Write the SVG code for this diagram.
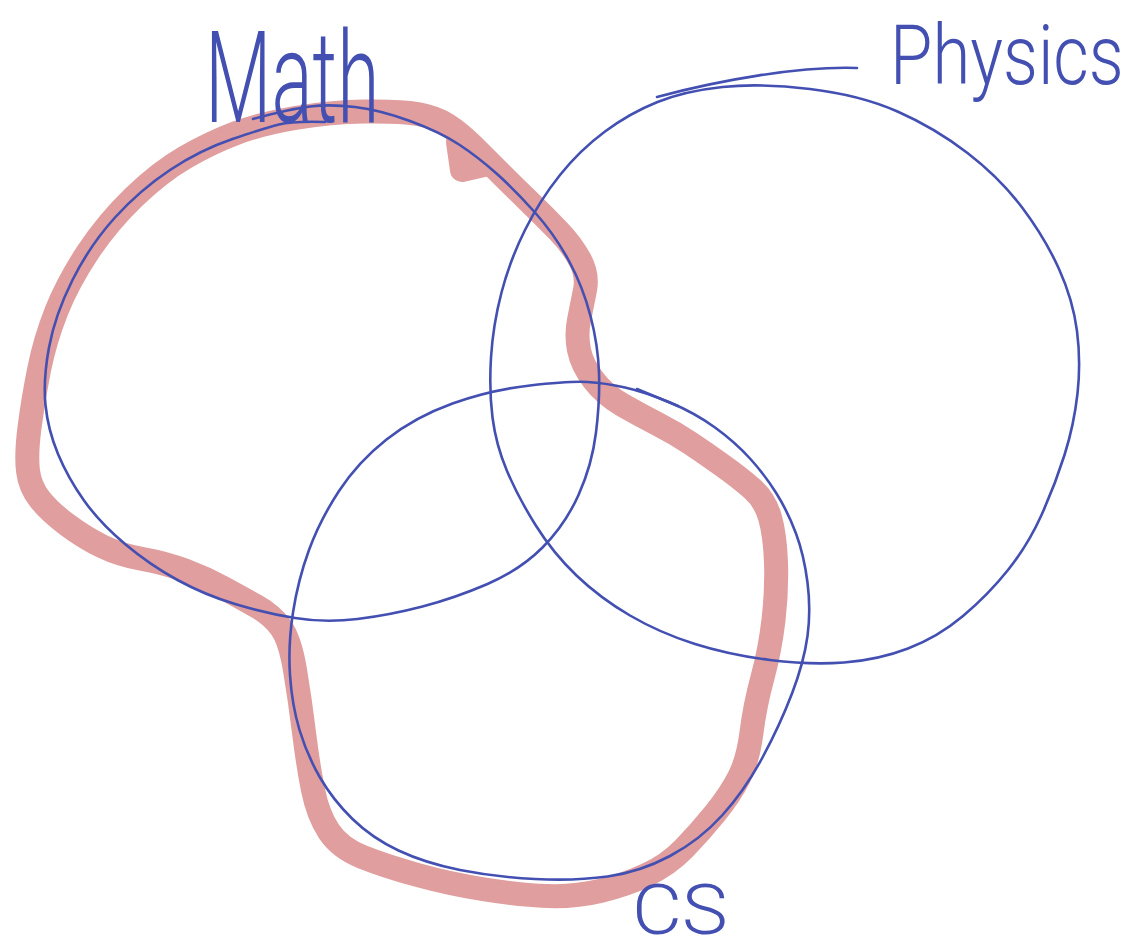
<svg xmlns="http://www.w3.org/2000/svg" width="1144" height="951" viewBox="0 0 1144 951">
<style>
.ink{fill:none;stroke:#4350b2;stroke-width:2.6;stroke-linecap:round;stroke-linejoin:round}
.hl{fill:none;stroke:#e09e9e;stroke-width:24;stroke-linecap:round;stroke-linejoin:round}
.hand{font-family:Roboto,"Liberation Sans",sans-serif;font-weight:300;fill:#4350b2}
</style>
<rect width="1144" height="951" fill="#ffffff"/>
<g id="connectors">
<g id="highlight">
<path class="hl" d="M295,118 Q330,112 365,111.5 Q400,111 417.5,114 Q435,117 447.5,125 Q460,133 473.5,146.5 Q487,160 501,174 Q515,188 530,202.5 Q545,217 558.5,231 Q572,245 580,260 Q588,275 585,290 Q582,305 579,320 Q576,335 579,350 Q582,365 593.5,380 Q605,395 622.5,405 Q640,415 657.5,424 Q675,433 690,443 Q705,453 722.5,465.5 Q740,478 752.5,489 Q765,500 770,517.5 Q775,535 776,562.5 Q777,590 773.5,620 Q770,650 762.5,677.5 Q755,705 751.5,732.5 Q748,760 739,777.5 Q730,795 715,813.5 Q700,832 684,848.5 Q668,865 646.5,875 Q625,885 600,891 Q575,897 547.5,896 Q520,895 485,889.5 Q450,884 417.5,875 Q385,866 362.5,857 Q340,848 329,831.5 Q318,815 313,790 Q308,765 304,732.5 Q300,700 295,670 Q290,640 281,627.5 Q272,615 256,606 Q240,597 222.5,587.5 Q205,578 185,570.5 Q165,563 142.5,559 Q120,555 102.5,546.5 Q85,538 67.5,525 Q50,512 40,499.5 Q30,487 28,471 Q26,455 29.5,427.5 Q33,400 39,370 Q45,340 56.5,311 Q68,282 88,252 Q108,222 134,197 Q160,172 185,157.5 Q210,143 235,133.5 Q260,124 295,118 Z"/>
<path class="hl" d="M458,142 L462,170 L488,164" stroke-width="30"/>
</g>
</g>
<g id="node-math">
<path class="ink" d="M325,122 Q293,121 279,124.5 Q265,128 232.5,139 Q200,150 170,170 Q140,190 115,217.5 Q90,245 72.5,280 Q55,315 49,347.5 Q43,380 45.5,405 Q48,430 58,454 Q68,478 84,500.5 Q100,523 125,544 Q150,565 177.5,580 Q205,595 235,604 Q265,613 295,618 Q325,623 357.5,619 Q390,615 422.5,606.5 Q455,598 487.5,584 Q520,570 542.5,547.5 Q565,525 578.5,495 Q592,465 596,432.5 Q600,400 599,372.5 Q598,345 590.5,316 Q583,287 569,261 Q555,235 535,212.5 Q515,190 496.5,173.5 Q478,157 459,144.5 Q440,132 410,121 Q380,110 355,107 Q330,104 310,106.5 Q290,109 253,119"/>
<text class="hand" font-size="128" transform="translate(205,122) scale(0.6,1)">Math</text>
</g>
<g id="node-physics">
<path class="ink" d="M722.5,87 Q760,83 810,89 Q860,95 897.5,111.5 Q935,128 967.5,153 Q1000,178 1022.5,208 Q1045,238 1059,269 Q1073,300 1077,331 Q1081,362 1077.5,393.5 Q1074,425 1064.5,455 Q1055,485 1041.5,515 Q1028,545 1008,570 Q988,595 963,616 Q938,637 908,648.5 Q878,660 844,662.5 Q810,665 770,660 Q730,655 695,644 Q660,633 630,615.5 Q600,598 576.5,575.5 Q553,553 535.5,525 Q518,497 507,471 Q496,445 492.5,417.5 Q489,390 491,357.5 Q493,325 501.5,292.5 Q510,260 525,230 Q540,200 560,175 Q580,150 605,131.5 Q630,113 657.5,102 Q685,91 722.5,87 Z"/>
<path class="ink" d="M857,68 C800,66 720,80 657,97"/>
<text class="hand" font-size="84" transform="translate(890,84) scale(0.82,1)">Physics</text>
</g>
<g id="node-cs">
<path class="ink" d="M587.5,382 Q570,381 530,385.5 Q490,390 452.5,403.5 Q415,417 386.5,439.5 Q358,462 339,491 Q320,520 309,550 Q298,580 293,612.5 Q288,645 290,675 Q292,705 299.5,730 Q307,755 320,777.5 Q333,800 352.5,819 Q372,838 398.5,850.5 Q425,863 460,870 Q495,877 535,879 Q575,881 607.5,876.5 Q640,872 670,856 Q700,840 722.5,815 Q745,790 762.5,757.5 Q780,725 792,693.5 Q804,662 807.5,636 Q811,610 807.5,582.5 Q804,555 796,533.5 Q788,512 776.5,493.5 Q765,475 750,458.5 Q735,442 715,427.5 Q695,413 670,402.5 Q645,392 625,387.5 Q605,383 587.5,382 Z"/>
<path class="ink" d="M637,389 L678,406" stroke-width="3.4"/>
<text class="hand" font-size="70" transform="translate(632,934) scale(1.1,1)">CS</text>
</g>
</svg>
